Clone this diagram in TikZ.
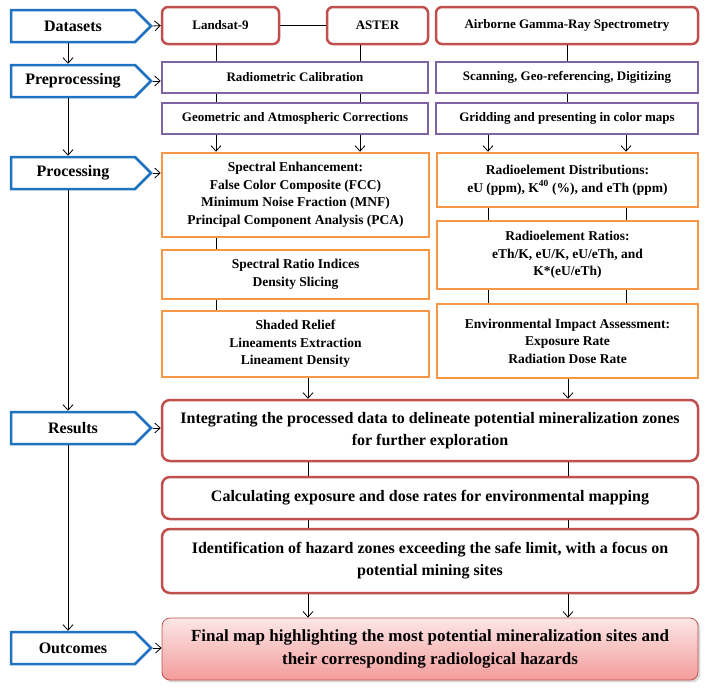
\documentclass[tikz,border=0pt]{standalone}
\usepackage{fontspec}
\setmainfont{Liberation Serif}
\usepackage{tikz}
\usetikzlibrary{positioning,shapes,arrows.meta,shadows}

\definecolor{stageblue}{RGB}{31,114,192}
\definecolor{datared}{RGB}{192,80,77}
\definecolor{prepurple}{RGB}{128,100,162}
\definecolor{procorange}{RGB}{247,150,70}
\definecolor{finalpink}{RGB}{243,156,156}

\tikzset{
  stage/.style={signal, signal to=east, draw=stageblue, line width=2.5pt, fill=white,
    minimum width=140pt, minimum height=32pt, inner sep=0pt,
    font=\fontsize{16}{19}\selectfont\bfseries},
  databox/.style={rectangle, rounded corners=6pt, draw=datared, line width=2.5pt,
    inner sep=0pt, align=center, font=\fontsize{13}{16}\selectfont\bfseries},
  prepbox/.style={rectangle, draw=prepurple, line width=2.5pt,
    inner sep=0pt, align=center, font=\fontsize{13}{16}\selectfont\bfseries},
  procbox/.style={rectangle, draw=procorange, line width=2.5pt,
    inner sep=0pt, align=center, font=\fontsize{13.5}{17.5}\selectfont\bfseries},
  resbox/.style={rectangle, rounded corners=8pt, draw=datared, line width=2.5pt,
    minimum width=536pt, inner sep=0pt, align=center,
    font=\fontsize{16}{22}\selectfont\bfseries},
  link/.style={line width=0.8pt},
  flow/.style={-{Straight Barb[length=5.5pt,width=10pt]}, line width=0.8pt}
}

\begin{document}
\begin{tikzpicture}[x=1pt, y=-1pt]
\useasboundingbox (0,0) rectangle (708,688);

% stages on the left
\node[stage] (ds) at (73,26) {Datasets};
\node[stage] (pre) at (73,81) {Preprocessing};
\node[stage] (proc) at (73,173) {Processing};
\node[stage] (res) at (73,428) {Results};
\node[stage] (out) at (73,648) {Outcomes};

% columns for the connectors
\coordinate (sx) at (68,0);
\coordinate (c1) at (216,0);
\coordinate (c2) at (360,0);
\coordinate (c3) at (488,0);
\coordinate (c4) at (626,0);
\coordinate (c6) at (308,0);
\coordinate (c7) at (568,0);

% datasets
\node[databox, minimum width=117pt, minimum height=37pt] (landsat) at (220.5,25.5) {Landsat-9};
\node[databox, minimum width=101pt, minimum height=37pt] (aster) at (377.5,25.5) {ASTER};
\node[databox, minimum width=262pt, minimum height=37pt] (agrs) at (567,25.5) {Airborne Gamma-Ray Spectrometry};

% preprocessing
\node[prepbox, minimum width=266pt, minimum height=31pt] (radcal) at (295,77.5) {Radiometric Calibration};
\node[prepbox, minimum width=266pt, minimum height=31pt] (geocor) at (295,118.5) {Geometric and Atmospheric Corrections};
\node[prepbox, minimum width=262pt, minimum height=31pt] (scan) at (567,77.5) {Scanning, Geo-referencing, Digitizing};
\node[prepbox, minimum width=262pt, minimum height=31pt] (grid) at (567,118.5) {Gridding and presenting in color maps};

% processing
\node[procbox, minimum width=267pt, minimum height=84pt] (spenh) at (295.5,195) {Spectral Enhancement:\\False Color Composite (FCC)\\Minimum Noise Fraction (MNF)\\Principal Component Analysis (PCA)};
\node[procbox, minimum width=267pt, minimum height=49pt] (sratio) at (295.5,274.5) {Spectral Ratio Indices\\Density Slicing};
\node[procbox, minimum width=267pt, minimum height=66pt] (shaded) at (295.5,344) {Shaded Relief\\Lineaments Extraction\\Lineament Density};
\node[procbox, minimum width=261pt, minimum height=54pt] (rdist) at (567.5,180) {Radioelement Distributions:\\eU (ppm), K\textsuperscript{40} (\%), and eTh (ppm)};
\node[procbox, minimum width=261pt, minimum height=68pt] (rratio) at (567.5,255) {Radioelement Ratios:\\eTh/K, eU/K, eU/eTh, and\\K*(eU/eTh)};
\node[procbox, minimum width=261pt, minimum height=74pt] (envimp) at (567.5,341) {Environmental Impact Assessment:\\Exposure Rate\\Radiation Dose Rate};

% results and outcomes
\node[resbox, minimum height=61pt] (integ) at (430,430.5) {Integrating the processed data to delineate potential mineralization zones\\for further exploration};
\node[resbox, minimum height=42pt] (calc) at (430,498) {Calculating exposure and dose rates for environmental mapping};
\node[resbox, minimum height=64pt] (ident) at (430,561) {Identification of hazard zones exceeding the safe limit, with a focus on\\potential mining sites};
\node[resbox, minimum height=62pt, line width=0.8pt, top color=finalpink!25, bottom color=finalpink,
  drop shadow={opacity=0.3}, font=\fontsize{17}{23}\selectfont\bfseries] (final) at (430,649)
  {Final map highlighting the most potential mineralization sites and\\their corresponding radiological hazards};

% stage arrows
\draw[flow] (ds.south -| sx) -- (pre.north -| sx);
\draw[flow] (pre.south -| sx) -- (proc.north -| sx);
\draw[flow] (proc.south -| sx) -- (res.north -| sx);
\draw[flow] (res.south -| sx) -- (out.north -| sx);
\draw[flow] (ds.east) -- (landsat.west);
\draw[flow] (pre.east) -- (pre.east -| radcal.west);
\draw[flow] (proc.east) -- (proc.east -| spenh.west);
\draw[flow] (res.east) -- (res.east -| integ.west);
\draw[flow] (out.east) -- (out.east -| final.west);

% remote sensing branch
\draw[link] (landsat) -- (aster);
\draw[link] (landsat.south -| c1) -- (radcal.north -| c1);
\draw[link] (aster.south -| c2) -- (radcal.north -| c2);
\draw[link] (radcal.south -| c1) -- (geocor.north -| c1);
\draw[link] (radcal.south -| c2) -- (geocor.north -| c2);
\draw[flow] (geocor.south -| c1) -- (spenh.north -| c1);
\draw[flow] (geocor.south -| c2) -- (spenh.north -| c2);
\draw[link] (spenh.south -| c1) -- (sratio.north -| c1);
\draw[link] (sratio.south -| c1) -- (shaded.north -| c1);

% gamma-ray branch
\draw[link] (agrs) -- (scan);
\draw[link] (scan) -- (grid);
\draw[flow] (grid.south -| c3) -- (rdist.north -| c3);
\draw[flow] (grid.south -| c4) -- (rdist.north -| c4);
\draw[link] (rdist.south -| c3) -- (rratio.north -| c3);
\draw[link] (rdist.south -| c4) -- (rratio.north -| c4);
\draw[link] (rratio.south -| c3) -- (envimp.north -| c3);
\draw[link] (rratio.south -| c4) -- (envimp.north -| c4);

% into results
\draw[flow] (shaded.south -| c6) -- (integ.north -| c6);
\draw[flow] (envimp.south -| c7) -- (integ.north -| c7);
\draw[link] (integ.south -| c6) -- (calc.north -| c6);
\draw[link] (integ.south -| c7) -- (calc.north -| c7);
\draw[link] (calc.south -| c6) -- (ident.north -| c6);
\draw[link] (calc.south -| c7) -- (ident.north -| c7);
\draw[flow] (ident.south -| c6) -- (final.north -| c6);
\draw[flow] (ident.south -| c7) -- (final.north -| c7);
\end{tikzpicture}
\end{document}
